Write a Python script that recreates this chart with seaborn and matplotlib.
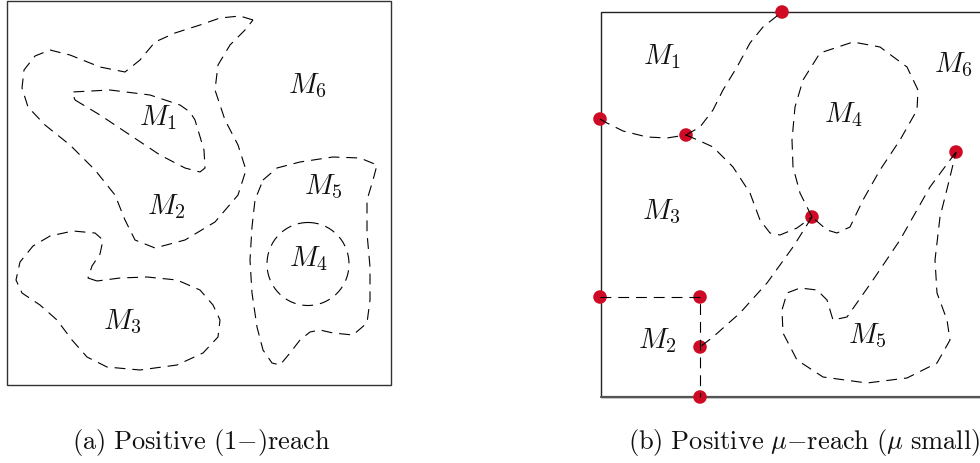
import matplotlib
matplotlib.use("Agg")
import matplotlib.pyplot as plt
import seaborn as sns
import numpy as np
from matplotlib.patches import Rectangle, Ellipse

sns.set_theme(style="white")
plt.rcParams["mathtext.fontset"] = "cm"
plt.rcParams["lines.scale_dashes"] = False

DASH = (0, (7.8, 5.0))
LW = 0.8

# ---------------- panel (a): region outlines (pixel coords) ----------------
a_outer_x = [253, 240, 220, 200, 175, 155, 140, 125, 100, 70, 50, 35, 24, 22, 28, 45, 70, 95, 115, 125, 135, 155, 185, 215, 238, 246, 238, 225, 215, 218, 230, 245, 253]
a_outer_y = [20, 16, 18, 25, 33, 42, 60, 72, 67, 55, 50, 56, 70, 88, 107, 125, 145, 170, 195, 220, 240, 248, 240, 222, 195, 170, 145, 120, 90, 65, 45, 30, 20]

a_m1_x = [75, 100, 130, 160, 185, 200, 205, 204, 198, 195, 190, 180, 150, 110, 72, 75]
a_m1_y = [100, 115, 135, 155, 168, 172, 168, 150, 130, 120, 112, 105, 95, 90, 92, 100]

a_m3_x = [97, 88, 92, 100, 103, 95, 73, 50, 33, 20, 16, 22, 40, 57, 72, 87, 107, 140, 177, 203, 218, 220, 213, 200, 177, 147, 120, 97]
a_m3_y = [281, 278, 266, 254, 240, 233, 231, 236, 246, 262, 280, 293, 305, 320, 340, 357, 367, 370, 365, 353, 337, 320, 305, 290, 280, 277, 278, 281]

a_m5_x = [263, 277, 300, 333, 360, 377, 373, 367, 367, 370, 370, 367, 353, 333, 320, 310, 300, 290, 280, 272, 263, 257, 252, 250, 252, 255, 263]
a_m5_y = [180, 168, 162, 157, 158, 165, 180, 200, 233, 267, 300, 323, 335, 333, 330, 332, 340, 353, 365, 363, 350, 327, 293, 260, 227, 200, 180]

a_m4_center = (308, 264)
a_m4_size = (82, 83)

a_labels = ["$M_1$", "$M_2$", "$M_3$", "$M_4$", "$M_5$", "$M_6$"]
a_label_x = [158, 166, 122, 308, 323, 307]
a_label_y = [118, 207, 322, 259, 187, 86]

# ---------------- panel (b) ----------------
b_c1_x = [600, 605, 623, 647, 667, 686]
b_c1_y = [119, 122, 131, 137, 138, 135]

b_c2_x = [686, 700, 713, 723, 737, 750, 763, 782]
b_c2_y = [135, 127, 110, 90, 67, 43, 27, 12]

b_c3_x = [686, 700, 713, 733, 750, 760, 770, 780, 797, 812]
b_c3_y = [135, 141, 147, 167, 193, 220, 233, 235, 228, 217]

b_c4_x = [812, 800, 793, 792, 795, 803, 820, 853, 880, 907, 918, 917, 900, 880, 863, 850, 837, 827, 812]
b_c4_y = [217, 193, 167, 140, 107, 80, 53, 42, 47, 67, 90, 110, 140, 170, 200, 227, 233, 230, 217]

b_c5_x = [812, 793, 767, 740, 713, 700]
b_c5_y = [217, 247, 283, 313, 337, 347]

b_c6_x = [600, 700, 700]
b_c6_y = [297, 297, 397]

b_c7_x = [956, 930, 900, 873, 847, 833, 827, 817, 800, 787, 782, 783, 797, 823, 867, 907, 937, 950, 947, 937, 935, 940, 950, 956]
b_c7_y = [152, 187, 240, 280, 317, 320, 300, 290, 288, 293, 310, 333, 360, 377, 383, 378, 363, 340, 320, 293, 260, 217, 177, 152]

b_dot_x = [782, 600, 686, 812, 956, 600, 700, 700, 700]
b_dot_y = [12, 119, 135, 217, 152, 297, 297, 347, 397]

b_labels = ["$M_1$", "$M_2$", "$M_3$", "$M_4$", "$M_5$", "$M_6$"]
b_label_x = [662, 657, 661, 843, 867, 953]
b_label_y = [57, 341, 212, 115, 336, 65]

captions = [r"$\mathrm{(a)\ Positive\ (1}{-}\mathrm{)reach}$",
            r"$\mathrm{(b)\ Positive\ }\mu{-}\mathrm{reach\ (}\mu\mathrm{\ small)}$"]
caption_x = [201, 628]
caption_y = [442, 442]
caption_ha = ["center", "left"]

# ---------------- drawing ----------------
fig = plt.figure(figsize=(9.8, 4.63), dpi=100)
ax = fig.add_axes([0, 0, 1, 1])
ax.set_xlim(0, 980)
ax.set_ylim(463, 0)
ax.axis("off")

ax.add_patch(Rectangle((7, 1), 384, 384, fill=False, edgecolor="#333333", lw=1.0, zorder=1))
ax.add_patch(Rectangle((600.5, 11.5), 420, 385, fill=False, edgecolor="#222222", lw=1.0, zorder=1))
ax.plot([600.5, 980], [396.5, 396.5], color="#555555", lw=1.6, zorder=1)

curves = [(a_outer_x, a_outer_y), (a_m1_x, a_m1_y), (a_m3_x, a_m3_y), (a_m5_x, a_m5_y),
          (b_c1_x, b_c1_y), (b_c2_x, b_c2_y), (b_c3_x, b_c3_y), (b_c4_x, b_c4_y),
          (b_c5_x, b_c5_y), (b_c6_x, b_c6_y), (b_c7_x, b_c7_y)]

sns.scatterplot(x=b_dot_x, y=b_dot_y, s=95, color="#cf0a24", edgecolor="none", ax=ax, zorder=2, legend=False)

for xs, ys in curves:
    sns.lineplot(x=xs, y=ys, sort=False, estimator=None, color="black", lw=LW,
                 linestyle=DASH, ax=ax, zorder=3, legend=False)
for ln in ax.lines:
    ln.set_solid_joinstyle("round")
    ln.set_dash_joinstyle("round")
    ln.set_dash_capstyle("butt")

ax.add_patch(Ellipse(a_m4_center, a_m4_size[0], a_m4_size[1], fill=False, edgecolor="black",
                     lw=LW, linestyle=DASH, zorder=3))

for t, x, y in zip(a_labels, a_label_x, a_label_y):
    ax.text(x, y, t, fontsize=20.5, ha="center", va="center", color="#111111")
for t, x, y in zip(b_labels, b_label_x, b_label_y):
    ax.text(x, y, t, fontsize=20.5, ha="center", va="center", color="#111111")
for t, x, y, ha in zip(captions, caption_x, caption_y, caption_ha):
    ax.text(x, y, t, fontsize=19, ha=ha, va="center", color="#111111")

fig.savefig("out.png", dpi=100)
